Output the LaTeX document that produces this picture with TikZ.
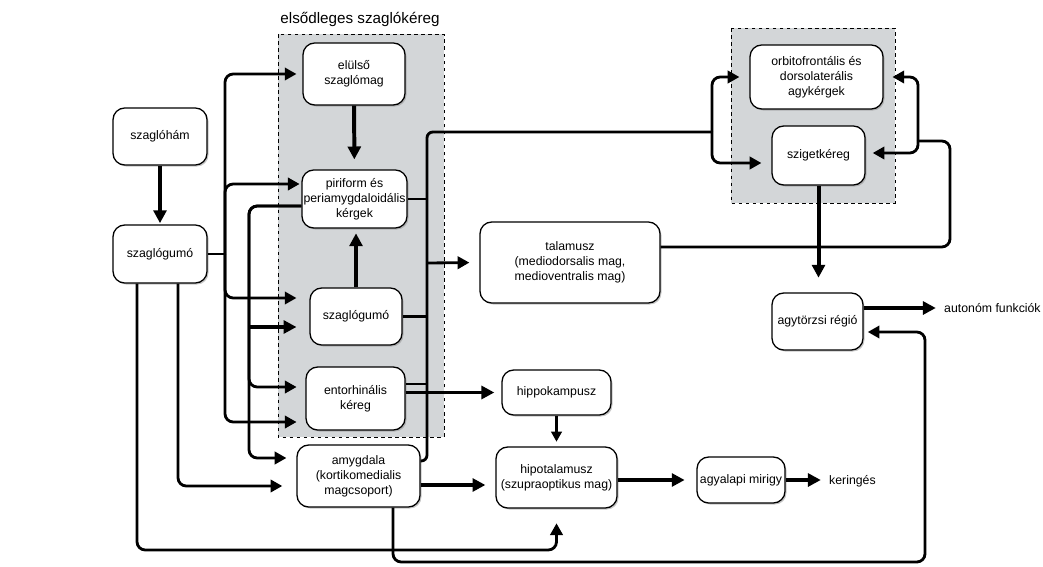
\documentclass[tikz,border=0pt]{standalone}
\usepackage{fontspec}
\setmainfont{Liberation Sans}
\usetikzlibrary{arrows.meta,shadows}
\definecolor{cortexgray}{RGB}{211,214,216}
\begin{document}
\begin{tikzpicture}[x=0.03cm,y=-0.03cm,every node/.style={font=\fontsize{10.5}{12.8}\selectfont},
  region/.style={draw,dashed,fill=cortexgray,line width=0.8pt},
  area/.style={draw,line width=1.1pt,rounded corners=10pt,fill=white,align=center,inner sep=1pt,
    drop shadow={shadow xshift=1.3pt,shadow yshift=-1.3pt,fill=black!45}},
  label/.style={anchor=west,inner sep=0pt},
  conn/.style={line width=2.4pt,rounded corners=7pt},
  arr/.style={conn,-{Triangle[length=10pt,width=10.5pt]},shorten >=1.5pt},
  arrT/.style={arr,line width=3.4pt,-{Triangle[length=11pt,width=11pt]}},
  arrt/.style={arr,line width=1.8pt,-{Triangle[length=8.5pt,width=9pt]}}]
\useasboundingbox (0,0) rectangle (1043,567);
% cortex regions
\draw[region] (278,34) rectangle (444,437);
\draw[region] (731,28) rectangle (895,203);
\node[font=\fontsize{13}{15}\selectfont] (title) at (360,19) {elsődleges szaglókéreg};
% areas
\node[area,minimum width=2.82cm,minimum height=1.71cm] (ham) at (160,136.5) {szaglóhám};
\node[area,minimum width=2.82cm,minimum height=1.74cm] (gumo) at (160,254) {szaglógumó};
\node[area,minimum width=3.06cm,minimum height=1.86cm] (elulso) at (354,74) {elülső\\szaglómag};
\node[area,minimum width=3.15cm,minimum height=1.74cm,inner xsep=0pt] (piri) at (354.5,199) {piriform és\\periamygdaloidális\\kérgek};
\node[area,minimum width=2.76cm,minimum height=1.71cm] (gumob) at (356,316.5) {szaglógumó};
\node[area,minimum width=2.97cm,minimum height=1.89cm] (ento) at (355.5,398.5) {entorhinális\\kéreg};
\node[area,minimum width=3.69cm,minimum height=1.86cm] (amyg) at (358.5,476) {amygdala\\(kortikomedialis\\magcsoport)};
\node[area,minimum width=5.40cm,minimum height=2.43cm] (tala) at (570,262.5) {talamusz\\(mediodorsalis mag,\\medioventralis mag)};
\node[area,minimum width=3.99cm,minimum height=1.92cm] (orbi) at (816.5,77) {orbitofrontális és\\dorsolaterális\\agykérgek};
\node[area,minimum width=2.79cm,minimum height=1.77cm] (szig) at (818.5,155.5) {szigetkéreg};
\node[area,minimum width=2.73cm,minimum height=1.71cm] (agyt) at (817.5,321.5) {agytörzsi régió};
\node[area,minimum width=3.27cm,minimum height=1.35cm] (hipp) at (556.5,392.5) {hippokampusz};
\node[area,minimum width=3.63cm,minimum height=1.83cm] (hipo) at (556.5,477.5) {hipotalamusz\\(szupraoptikus mag)};
\node[area,minimum width=2.64cm,minimum height=1.38cm,inner xsep=0pt] (agya) at (741,480) {agyalapi mirigy};
\node[label] (auton) at (944,308) {autonóm funkciók};
\node[label] (kering) at (829,481) {keringés};
% bus points
\coordinate (busL) at (225,254);
\coordinate (busP) at (249,300);
\coordinate (busR) at (427,263);
\coordinate (jL) at (712,132);
\coordinate (jR) at (918,141);
\coordinate (tR) at (950,141);
\coordinate (lpB) at (925,562);
% olfactory bulb outputs
\draw[arrT,shorten >=1pt] (ham) -- (gumo);
\draw[conn] (gumo.east) -- (busL);
\draw[arr,shorten >=5pt] (busL) |- (elulso.west);
\draw[arr] (busL) |- (piri.west |- 0,184);
\draw[arr,shorten >=11pt] (busL) |- (gumob.west |- 0,298);
\draw[arr,shorten >=7.5pt] (busL) |- (ento.west |- 0,422);
\draw[arr,shorten >=12.5pt] (gumo.south -| 137,0) |- (hipo.south |- 0,550) -- (hipo.south);
\draw[arr,shorten >=12pt] (gumo.south -| 178,0) |- (amyg.west |- 0,486);
% piriform outputs
\draw[arr,shorten >=7.5pt] (piri.west |- 0,206) -| (busP) |- (ento.west |- 0,387);
\draw[arr,shorten >=8.5pt] (piri.west |- 0,206) -| (busP) |- (amyg.west |- 0,458);
\draw[arrT,shorten >=11pt] (busP |- 0,327) -- (gumob.west |- 0,327);
\draw[arrT,shorten >=8.5pt] (elulso) -- (piri);
\draw[arrT,shorten >=4pt] (gumob.north) -- (gumob.north |- piri.south);
% right bus
\draw[conn] (piri.east) -- (piri.east -| busR);
\draw[conn] (gumob.east) -- (gumob.east -| busR);
\draw[conn] (ento.east |- 0,384) -- (busR |- 0,384);
\draw[conn,rounded corners=5pt] (amyg.east |- 0,461) -| (busR) |- (jL);
\draw[arr,shorten >=8.5pt] (busR) -- (tala.west);
\draw[arr,shorten >=8.5pt] (jL) |- (orbi.west);
\draw[arr,shorten >=8.5pt] (jL) |- (szig.west |- 0,163);
\draw[conn] (tala.east |- 0,247) -| (tR) -- (jR);
\draw[arr,shorten >=7.5pt] (jR) |- (orbi.east);
\draw[arr,shorten >=6pt] (jR) |- (szig.east |- 0,153);
% lower chain
\draw[arrT,shorten >=6pt] (ento.east |- hipp.west) -- (hipp.west);
\draw[arrt,shorten >=4pt] (hipp) -- (hipo);
\draw[arrT,shorten >=8.5pt] (amyg.east |- 0,485) -- (hipo.west |- 0,485);
\draw[arrT,shorten >=10pt] (hipo.east |- agya.west) -- (agya.west);
\draw[arrT,shorten >=7pt] (agya.east) -- (agya.east -| kering.west);
\draw[arrT,shorten >=12.5pt] (szig.south) -- (szig.south |- agyt.north);
\draw[arrT,shorten >=7pt] (agyt.east |- auton.west) -- (auton.west);
\draw[arr,shorten >=3.5pt] (amyg.south -| 393,0) |- (lpB) |- (agyt.east |- 0,332);
\end{tikzpicture}
\end{document}
